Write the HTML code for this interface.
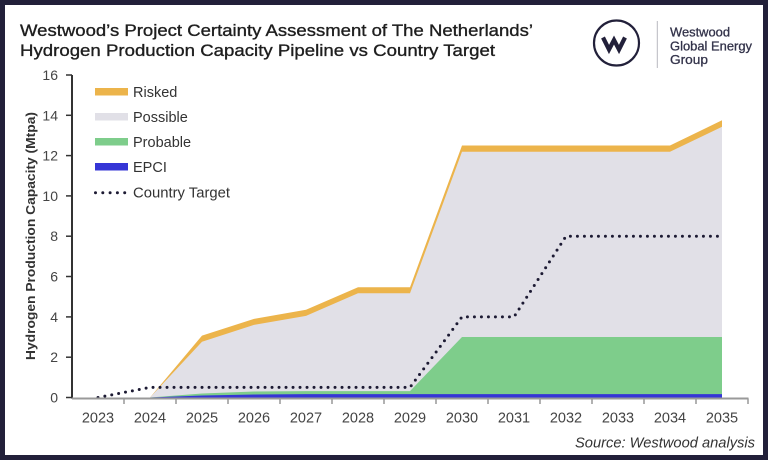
<!DOCTYPE html>
<html>
<head>
<meta charset="utf-8">
<style>
  html,body{margin:0;padding:0;background:#fff;}
  body{width:768px;height:460px;overflow:hidden;}
  svg{display:block;}
  text{font-family:"Liberation Sans", sans-serif;}
</style>
</head>
<body>
<svg width="768" height="460" viewBox="0 0 768 460" xmlns="http://www.w3.org/2000/svg">
  <!-- frame -->
  <rect x="0" y="0" width="768" height="460" fill="#22203a"/>
  <rect x="5" y="5" width="758" height="450" fill="#ffffff"/>

  <!-- title -->
  <text x="20" y="36" font-size="17" fill="#1e1e1e" stroke="#1e1e1e" stroke-width="0.35" textLength="513" lengthAdjust="spacingAndGlyphs">Westwood’s Project Certainty Assessment of The Netherlands’</text>
  <text x="20" y="56" font-size="17" fill="#1e1e1e" stroke="#1e1e1e" stroke-width="0.35" textLength="475" lengthAdjust="spacingAndGlyphs">Hydrogen Production Capacity Pipeline vs Country Target</text>

  <!-- logo -->
  <circle cx="616.5" cy="43" r="22.5" fill="none" stroke="#22203a" stroke-width="2.2"/>
  <path d="M603,37.5 L609,49.5 L614,40 L619,49.5 L625,37.5" fill="none" stroke="#22203a" stroke-width="4.2" stroke-linejoin="miter"/>
  <line x1="657.3" y1="21" x2="657.3" y2="68" stroke="#b8b8c0" stroke-width="1"/>
  <text x="670" y="36.5" font-size="13" fill="#33334a" stroke="#33334a" stroke-width="0.3" textLength="60" lengthAdjust="spacingAndGlyphs">Westwood</text>
  <text x="670" y="50.5" font-size="13" fill="#33334a" stroke="#33334a" stroke-width="0.3" textLength="82" lengthAdjust="spacingAndGlyphs">Global Energy</text>
  <text x="670" y="64" font-size="13" fill="#33334a" stroke="#33334a" stroke-width="0.3" textLength="38" lengthAdjust="spacingAndGlyphs">Group</text>

  <!-- areas -->
  <path d="M150,397.5 L202,335.6 L254,318.9 L306,309.8 L358,287.2 L410,287.2 L462,145.5 L670,145.5 L722,120.3 L722,397.5 Z" fill="#ecb44b"/>
  <path d="M150,397.5 L202,341.7 L254,324.9 L306,315.9 L358,293.3 L410,293.3 L462,151.8 L670,151.8 L722,126.8 L722,397.5 Z" fill="#e1e0e7"/>
  <path d="M150,397.5 L202,393.5 L254,391.5 L306,391.1 L410,391.1 L462,337 L722,337 L722,397.5 Z" fill="#7ecd8b"/>
  <path d="M150,397.5 L202,395.5 L254,394.5 L306,394.1 L722,394.1 L722,397.5 Z" fill="#3535d6"/>

  <!-- country target -->
  <path d="M98,397.5 L150,387.4 L410,387.4 L462,316.9 L514,316.9 L566,236.2 L722,236.2" fill="none" stroke="#1c1a33" stroke-width="3" stroke-dasharray="0 7" stroke-linecap="round"/>

  <!-- y axis -->
  <line x1="72" y1="75" x2="72" y2="398.5" stroke="#333" stroke-width="2"/>
  <g stroke="#333" stroke-width="1.5">
    <line x1="66" y1="397.5" x2="72" y2="397.5"/>
    <line x1="66" y1="357.2" x2="72" y2="357.2"/>
    <line x1="66" y1="316.9" x2="72" y2="316.9"/>
    <line x1="66" y1="276.5" x2="72" y2="276.5"/>
    <line x1="66" y1="236.2" x2="72" y2="236.2"/>
    <line x1="66" y1="195.9" x2="72" y2="195.9"/>
    <line x1="66" y1="155.6" x2="72" y2="155.6"/>
    <line x1="66" y1="115.3" x2="72" y2="115.3"/>
    <line x1="66" y1="75" x2="72" y2="75"/>
  </g>
  <g font-size="14" fill="#444" text-anchor="end">
    <text x="58" y="402.5">0</text>
    <text x="58" y="362.2">2</text>
    <text x="58" y="321.9">4</text>
    <text x="58" y="281.5">6</text>
    <text x="58" y="241.2">8</text>
    <text x="58" y="200.9">10</text>
    <text x="58" y="160.6">12</text>
    <text x="58" y="120.3">14</text>
    <text x="58" y="80">16</text>
  </g>
  <text transform="translate(35,236) rotate(-90)" font-size="13" font-weight="bold" fill="#333" text-anchor="middle" textLength="248" lengthAdjust="spacingAndGlyphs">Hydrogen Production Capacity (Mtpa)</text>

  <!-- x axis -->
  <line x1="72" y1="398.5" x2="748.5" y2="398.5" stroke="#999" stroke-width="2"/>
  <g stroke="#999" stroke-width="1.5">
    <line x1="124" y1="398.5" x2="124" y2="404"/>
    <line x1="176" y1="398.5" x2="176" y2="404"/>
    <line x1="228" y1="398.5" x2="228" y2="404"/>
    <line x1="280" y1="398.5" x2="280" y2="404"/>
    <line x1="332" y1="398.5" x2="332" y2="404"/>
    <line x1="384" y1="398.5" x2="384" y2="404"/>
    <line x1="436" y1="398.5" x2="436" y2="404"/>
    <line x1="488" y1="398.5" x2="488" y2="404"/>
    <line x1="540" y1="398.5" x2="540" y2="404"/>
    <line x1="592" y1="398.5" x2="592" y2="404"/>
    <line x1="644" y1="398.5" x2="644" y2="404"/>
    <line x1="696" y1="398.5" x2="696" y2="404"/>
    <line x1="748" y1="398.5" x2="748" y2="404"/>
  </g>
  <g font-size="14.5" fill="#444" text-anchor="middle">
    <text x="98" y="422.5">2023</text>
    <text x="150" y="422.5">2024</text>
    <text x="202" y="422.5">2025</text>
    <text x="254" y="422.5">2026</text>
    <text x="306" y="422.5">2027</text>
    <text x="358" y="422.5">2028</text>
    <text x="410" y="422.5">2029</text>
    <text x="462" y="422.5">2030</text>
    <text x="514" y="422.5">2031</text>
    <text x="566" y="422.5">2032</text>
    <text x="618" y="422.5">2033</text>
    <text x="670" y="422.5">2034</text>
    <text x="722" y="422.5">2035</text>
  </g>

  <!-- legend -->
  <rect x="95" y="88" width="33" height="7.5" fill="#ecb44b"/>
  <rect x="95" y="113" width="33" height="7.5" fill="#e1e0e7"/>
  <rect x="95" y="138" width="33" height="7.5" fill="#7ecd8b"/>
  <rect x="95" y="163" width="33" height="7.5" fill="#3535d6"/>
  <path d="M95.5,192.7 L125,192.7" stroke="#1c1a33" stroke-width="3" stroke-dasharray="0 7.3" stroke-linecap="round"/>
  <g font-size="14.5" fill="#333">
    <text x="133" y="97">Risked</text>
    <text x="133" y="122">Possible</text>
    <text x="133" y="147">Probable</text>
    <text x="133" y="172">EPCI</text>
    <text x="133" y="197.5" textLength="97" lengthAdjust="spacingAndGlyphs">Country Target</text>
  </g>

  <!-- source -->
  <text x="755" y="447.5" font-size="15" font-style="italic" fill="#333" text-anchor="end" textLength="180" lengthAdjust="spacingAndGlyphs">Source: Westwood analysis</text>
</svg>
</body>
</html>
